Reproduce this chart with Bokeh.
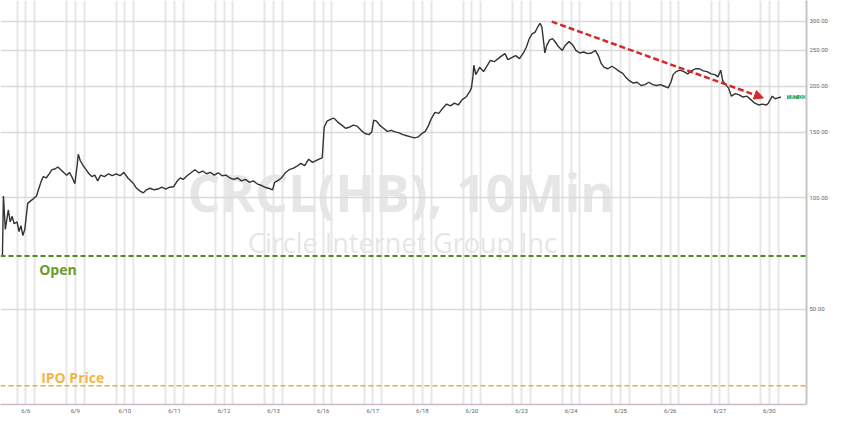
from bokeh.plotting import figure
from bokeh.models import Range1d, FixedTicker, PrintfTickFormatter, Span, Label, Arrow, NormalHead
from bokeh.embed import file_html
from bokeh.resources import INLINE

# ---- data ----
day_labels = ["6/6", "6/9", "6/10", "6/11", "6/12", "6/13", "6/16", "6/17",
              "6/18", "6/20", "6/23", "6/24", "6/25", "6/26", "6/27", "6/30"]

# position in trading days (0 = open of 6/6), 10-minute closes sampled
t_days = [
    -0.471, -0.451, -0.412, -0.353, -0.314, -0.275, -0.235, -0.176, -0.137, -0.098, -0.059, -0.020,
    0.039, 0.098, 0.157, 0.216, 0.275, 0.314, 0.353, 0.412, 0.471, 0.529, 0.588, 0.647, 0.706, 0.765, 0.824, 0.882, 0.941, 0.990,
    1.039, 1.059, 1.098, 1.157, 1.216, 1.275, 1.333, 1.392, 1.451, 1.510, 1.588, 1.667, 1.745, 1.824, 1.902, 1.980,
    2.059, 2.118, 2.176, 2.235, 2.314, 2.373, 2.431, 2.510, 2.588, 2.667, 2.745, 2.824, 2.902, 2.980,
    3.059, 3.118, 3.176, 3.255, 3.333, 3.412, 3.490, 3.569, 3.647, 3.725, 3.804, 3.882, 3.961,
    4.039, 4.118, 4.196, 4.275, 4.353, 4.431, 4.510, 4.588, 4.667, 4.745, 4.824, 4.902, 4.980,
    5.020, 5.078, 5.157, 5.235, 5.314, 5.392, 5.471, 5.549, 5.627, 5.706, 5.784, 5.863, 5.941, 5.980,
    6.020, 6.078, 6.157, 6.216, 6.294, 6.373, 6.451, 6.529, 6.608, 6.686, 6.765, 6.843, 6.922, 6.980,
    7.020, 7.078, 7.137, 7.216, 7.294, 7.373, 7.451, 7.529, 7.608, 7.686, 7.765, 7.843, 7.922, 7.990,
    8.059, 8.118, 8.176, 8.255, 8.333, 8.412, 8.490, 8.569, 8.647, 8.725, 8.804, 8.882, 8.961, 8.990,
    9.020, 9.039, 9.078, 9.157, 9.235, 9.314, 9.373, 9.451, 9.529, 9.608, 9.667, 9.725, 9.804, 9.882, 9.961,
    10.039, 10.098, 10.157, 10.216, 10.275, 10.333, 10.373, 10.412, 10.451, 10.471, 10.510, 10.569, 10.627, 10.686, 10.745, 10.824, 10.882, 10.961,
    11.039, 11.098, 11.176, 11.255, 11.333, 11.412, 11.490, 11.549, 11.608, 11.667, 11.745, 11.824, 11.902, 11.980,
    12.039, 12.098, 12.176, 12.255, 12.333, 12.412, 12.490, 12.569, 12.647, 12.725, 12.804, 12.882, 12.961,
    13.020, 13.059, 13.118, 13.196, 13.275, 13.353, 13.431, 13.510, 13.588, 13.667, 13.745, 13.824, 13.902, 13.961,
    14.020, 14.059, 14.118, 14.176, 14.235, 14.314, 14.392, 14.471, 14.549, 14.627, 14.706, 14.784, 14.863, 14.941, 14.980,
    15.020, 15.059, 15.118, 15.176, 15.235,
]
price = [
    69.5, 101, 82, 92.6, 86, 89, 85, 86, 81, 84, 79, 82,
    96.5, 98, 99.4, 101, 107, 111, 114, 113, 116, 119, 119.5, 121, 119, 117, 115, 117, 113, 109,
    123, 131, 126, 122, 119, 116, 114, 115, 111, 115, 114, 116, 114.6, 116, 114.6, 117,
    113, 111, 109, 106, 104, 103, 105, 106, 105, 105.5, 106.7, 105.5, 106.7, 107,
    111, 113, 112, 114.6, 116.7, 119, 116.7, 118, 116, 117, 115, 116.7, 114.6,
    115, 113, 112, 113, 111, 112, 110, 111, 109, 108, 106.7, 106, 105,
    110, 111, 113, 116.7, 119, 120, 121.6, 123.8, 122, 127, 124.5, 126, 127.5, 128,
    155, 161, 163, 164, 160, 157, 154, 155, 157, 156, 152, 149, 148, 150.5,
    162, 161, 157, 154, 151, 152, 150.5, 149.6, 148, 147, 146, 145, 146, 149,
    151, 156, 163, 170, 169, 174.5, 179, 177, 180, 178, 184, 187, 194, 198,
    212, 228, 215, 225, 219, 228, 235, 233, 237.5, 242, 245, 236, 239, 242, 237.5,
    246, 255, 269, 277, 280, 290, 296, 289, 261, 246, 258, 267, 269, 263, 256, 250, 258, 264,
    258, 250, 246, 247.5, 245, 246, 250, 242, 230.5, 225, 223, 226.5, 223, 219,
    217, 212, 207, 204, 205, 201, 202, 205, 202, 201, 202, 200, 198,
    206, 215, 219, 221, 219, 216, 220, 223, 223, 220, 219, 216, 215, 212,
    221, 207, 202, 198, 188, 191, 189.6, 187, 188, 184, 180, 178, 179, 178, 180,
    184, 188, 185, 186, 187,
]

open_price = 69.5
ipo_price = 31.0
price_ticks = [50, 100, 150, 200, 250, 300]
arrow_t = [10.61, 14.88]
arrow_price = [299, 186]

# ---- figure ----
p = figure(frame_width=806, frame_height=404, output_backend="svg", toolbar_location=None,
           y_axis_type="log", y_axis_location="right",
           x_range=Range1d(-0.51, 15.75), y_range=Range1d(27.6, 341),
           min_border_left=0, min_border_top=0, min_border_right=0, min_border_bottom=0)
p.outline_line_color = None
p.background_fill_color = "white"

# vertical grid: three lines around each session open
grid_ticks = [i + o for i in range(len(day_labels)) for o in (-0.176, 0.0, 0.176)]
p.xgrid.ticker = FixedTicker(ticks=grid_ticks)
p.xgrid.grid_line_color = "#e6e6e6"
p.xgrid.grid_line_width = 2
p.ygrid.grid_line_color = "#d9d9d9"
p.ygrid.grid_line_width = 1.5

# x axis
p.xaxis.ticker = FixedTicker(ticks=list(range(len(day_labels))))
p.xaxis.major_label_overrides = {i: lab for i, lab in enumerate(day_labels)}
p.xaxis.major_label_text_font_size = "6px"
p.xaxis.major_label_text_color = "#666666"
p.xaxis.major_label_text_font = "Roboto"
p.xaxis.major_tick_out = 0
p.xaxis.major_tick_in = 0
p.xaxis.minor_tick_out = 0
p.xaxis.minor_tick_in = 0
p.xaxis.axis_line_color = "#cdb9c6"
p.xaxis.axis_line_width = 1.5
p.xaxis.major_label_standoff = 2

# y axis (right)
p.yaxis.ticker = FixedTicker(ticks=price_ticks)
p.yaxis.formatter = PrintfTickFormatter(format="%.2f")
p.yaxis.major_label_text_font_size = "6px"
p.yaxis.major_label_text_color = "#666666"
p.yaxis.major_label_text_font = "Roboto"
p.yaxis.major_tick_out = 0
p.yaxis.major_tick_in = 0
p.yaxis.minor_tick_out = 0
p.yaxis.minor_tick_in = 0
p.yaxis.axis_line_color = "#c6c6c6"
p.yaxis.axis_line_width = 2
p.yaxis.major_label_standoff = 3

# watermark
p.add_layout(Label(x=7.57, y=104, text="CRCL(HB), 10Min", text_align="center",
                   text_baseline="middle", text_font="Open Sans", text_font_style="bold",
                   text_font_size="52px", text_color="#e6e6e6", level="image"))
p.add_layout(Label(x=7.6, y=75.7, text="Circle Internet Group Inc", text_align="center",
                   text_baseline="middle", text_font="Open Sans",
                   text_font_size="27px", text_color="#e6e6e6", level="image"))

# reference lines
p.add_layout(Span(location=open_price, dimension="width", line_color="#4d8a1a",
                  line_dash="5 3", line_width=2))
p.add_layout(Span(location=ipo_price, dimension="width", line_color="#f0a93a",
                  line_dash="5 3", line_width=1.5))
p.add_layout(Label(x=0.27, y=63.8, text="Open", text_baseline="middle",
                   text_font="Open Sans", text_font_style="bold", text_font_size="14px",
                   text_color="#6b9a2e"))
p.add_layout(Label(x=0.31, y=32.6, text="IPO Price", text_baseline="middle",
                   text_font="Open Sans", text_font_style="bold", text_font_size="14px",
                   text_color="#f3b54a"))

# price line
p.line(t_days, price, line_color="#333333", line_width=1.4)

# trend arrow
p.add_layout(Arrow(x_start=arrow_t[0], y_start=arrow_price[0], x_end=arrow_t[1], y_end=arrow_price[1],
                   line_color="#d42a2a", line_width=2.5, line_dash="6 3",
                   end=NormalHead(size=9, fill_color="#d42a2a", line_color="#d42a2a")))

# last price box (drawn at the right edge of the plot area)
p.add_layout(Label(x=15.75, y=price[-1], x_offset=-1, text=f"{price[-1]:.2f}",
                   text_align="right", text_baseline="middle", text_font="Roboto",
                   text_font_size="6px", text_color="white",
                   background_fill_color="#2f9e52", level="overlay"))

open("out.html", "w").write(file_html(p, INLINE))
